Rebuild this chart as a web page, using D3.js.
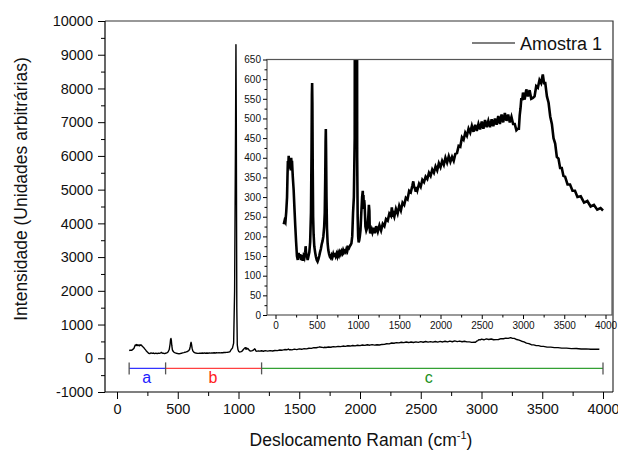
<!DOCTYPE html>
<html><head><meta charset="utf-8">
<script src="https://cdn.jsdelivr.net/npm/d3@7/dist/d3.min.js"></script>
<style>body{margin:0;background:#fff}svg{display:block;font-family:Arial,"Liberation Sans",sans-serif}</style>
</head><body><svg id="c" width="618" height="451"></svg>
<script>
// ---- data ----
const ramanShift = [100,110,120,130,140,145,150,155,160,165,170,175,180,185,190,195,200,205,210,220,230,240,250,260,270,280,290,300,310,320,330,340,350,360,365,370,375,380,390,400,410,420,430,437,441,444,447,451,456,462,470,480,490,500,510,520,530,540,550,560,570,580,590,597,603,607,610,613,618,624,632,640,650,660,670,680,690,700,710,720,730,740,750,760,770,780,790,800,810,820,830,840,850,860,870,880,890,900,910,920,930,940,950,960,968,976,979,982,986,990,996,1002,1008,1015,1022,1030,1040,1050,1058,1062,1066,1070,1075,1080,1085,1090,1100,1108,1115,1125,1132,1138,1142,1148,1155,1165,1175,1190,1205,1220,1240,1260,1280,1300,1320,1340,1360,1380,1400,1410,1420,1428,1440,1460,1480,1500,1520,1540,1560,1580,1600,1620,1640,1660,1670,1680,1690,1700,1710,1720,1740,1760,1780,1800,1820,1840,1860,1880,1900,1920,1940,1960,1980,2000,2020,2040,2060,2080,2100,2120,2140,2160,2180,2200,2220,2240,2260,2280,2300,2320,2340,2360,2380,2400,2420,2440,2460,2480,2500,2520,2540,2560,2580,2600,2620,2640,2660,2680,2700,2720,2740,2760,2780,2800,2820,2840,2860,2880,2900,2920,2940,2950,2960,2970,2980,2990,3000,3020,3040,3060,3080,3100,3120,3140,3160,3180,3200,3220,3240,3255,3270,3290,3310,3330,3350,3370,3390,3410,3430,3450,3470,3490,3510,3540,3570,3600,3630,3660,3700,3740,3780,3820,3860,3900,3940,3970,3990];
const intensity = [231,240,236,262,300,350,392,380,405,372,398,378,395,368,400,385,392,370,350,318,270,225,185,150,140,158,145,155,140,152,138,150,145,158,175,160,148,152,140,150,160,185,260,420,560,590,540,380,250,205,175,160,148,140,136,142,150,160,168,180,188,200,225,260,350,440,473,420,300,220,182,165,155,148,145,152,147,155,148,158,150,156,149,158,152,160,155,162,157,165,159,163,160,168,163,172,170,175,178,182,200,260,300,450,2000,7000,9300,7000,1500,400,250,200,185,190,200,215,260,300,316,270,305,275,292,280,255,225,215,220,225,250,280,265,220,208,212,218,210,222,208,226,212,228,215,232,226,244,240,258,252,274,250,258,250,270,258,278,266,286,280,298,294,316,312,330,340,326,322,314,326,318,334,326,344,338,352,346,362,354,370,362,378,368,386,376,392,382,400,388,404,390,402,392,410,412,430,428,452,446,464,456,474,464,481,466,484,468,486,472,492,474,496,478,494,478,498,480,500,484,506,486,510,490,514,494,510,490,504,486,486,470,474,474,508,526,552,546,566,548,574,556,572,550,552,556,582,578,598,590,612,590,590,556,540,505,486,450,436,402,398,374,374,354,352,332,332,316,316,300,302,286,290,276,280,268,272,266];
const seriesName = "Amostra 1";
const mainXTicks = [0,500,1000,1500,2000,2500,3000,3500,4000];
const mainYTicks = [-1000,0,1000,2000,3000,4000,5000,6000,7000,8000,9000,10000];
const insetXTicks = [0,500,1000,1500,2000,2500,3000,3500,4000];
const insetYTicks = [0,50,100,150,200,250,300,350,400,450,500,550,600,650];
const rangeLabels = ["a","b","c"];
const rangeStart = [100,400,1190];
const rangeEnd = [400,1190,4000];
const rangeLabelAt = [245,790,2565];
const rangeLevel = -300;

const pts = ramanShift.map((x,i)=>[x,intensity[i]]);
const svg = d3.select("#c");
const fmt = d => String(d);

// ---- main plot ----
const M = {l:105, r:613, t:21, b:392};
const x = d3.scaleLinear().domain([0,4000]).range([117,603]);
const y = d3.scaleLinear().domain([-1000,10000]).range([392,21]);

svg.append("path").attr("d",`M${M.l},${M.t}H${M.r}V${M.b}`).attr("fill","none").attr("stroke","#333").attr("stroke-width",1.2);

const fs = "14.5px";
const xAx = svg.append("g").attr("transform",`translate(0,${M.b})`)
  .call(d3.axisBottom(x).tickValues(mainXTicks).tickFormat(fmt).tickSize(7).tickSizeOuter(0));
xAx.select(".domain").remove();
svg.append("line").attr("x1",M.l).attr("x2",M.r).attr("y1",M.b).attr("y2",M.b).attr("stroke","#000").attr("stroke-width",1.2);
xAx.selectAll("text").attr("font-size",fs).attr("fill","#111").attr("dy","0.95em").attr("y",8);
svg.append("g").attr("transform",`translate(0,${M.b})`)
  .call(d3.axisBottom(x).tickValues(d3.range(250,4001,500)).tickFormat("").tickSize(4).tickSizeOuter(0))
  .select(".domain").remove();

const yAx = svg.append("g").attr("transform",`translate(${M.l},0)`)
  .call(d3.axisLeft(y).tickValues(mainYTicks).tickFormat(fmt).tickSize(7).tickSizeOuter(0));
yAx.select(".domain").remove();
svg.append("line").attr("x1",M.l).attr("x2",M.l).attr("y1",M.t).attr("y2",M.b).attr("stroke","#000").attr("stroke-width",1.2);
yAx.selectAll("text").attr("font-size",fs).attr("fill","#111").attr("x",-12);
svg.append("g").attr("transform",`translate(${M.l},0)`)
  .call(d3.axisLeft(y).tickValues(d3.range(-500,10000,1000)).tickFormat("").tickSize(4).tickSizeOuter(0))
  .select(".domain").remove();
svg.selectAll(".tick line").attr("stroke","#000");

// main spectrum
const lineMain = d3.line().x(d=>x(d[0])).y(d=>y(d[1]));
svg.append("path").datum(pts).attr("d",lineMain).attr("fill","none").attr("stroke","#000").attr("stroke-width",1.4).attr("stroke-linejoin","round");

// range bars
const rangeColors = ["#3333ff","#ff4040","#33a033"];
const labelColors = ["#2020ff","#ff2020","#209020"];
rangeLabels.forEach((lab,i)=>{
  svg.append("line").attr("x1",x(rangeStart[i])).attr("x2",x(rangeEnd[i])).attr("y1",y(rangeLevel)).attr("y2",y(rangeLevel))
    .attr("stroke",rangeColors[i]).attr("stroke-width",1.3);
  svg.append("text").attr("x",x(rangeLabelAt[i])).attr("y",y(rangeLevel)+15).attr("text-anchor","middle")
    .attr("font-size","16px").attr("fill",labelColors[i]).text(lab);
});
const ends = rangeStart.concat([rangeEnd[rangeEnd.length-1]]);
ends.forEach(v=>{
  svg.append("line").attr("x1",x(v)).attr("x2",x(v)).attr("y1",y(rangeLevel)-6).attr("y2",y(rangeLevel)+6)
    .attr("stroke","#555").attr("stroke-width",1.3);
});

// axis titles
svg.append("text").attr("transform","translate(27,189) rotate(-90)").attr("text-anchor","middle")
  .attr("font-size","17.5px").attr("fill","#111").text("Intensidade (Unidades arbitrárias)");
const xt = svg.append("text").attr("x",361).attr("y",446).attr("text-anchor","middle").attr("font-size","17.5px").attr("fill","#111");
xt.append("tspan").text("Deslocamento Raman (cm");
xt.append("tspan").attr("font-size","11px").attr("dy","-7").text("-1");
xt.append("tspan").attr("dy","7").text(")");

// legend
svg.append("line").attr("x1",472).attr("x2",515).attr("y1",43).attr("y2",43).attr("stroke","#000").attr("stroke-width",1.2);
svg.append("text").attr("x",520).attr("y",50).attr("font-size","18px").attr("fill","#111").text(seriesName);

// ---- inset ----
const I = {l:267, r:612, t:59.5, b:315};
const xi = d3.scaleLinear().domain([0,4000]).range([275.5,605.5]);
const yi = d3.scaleLinear().domain([0,650]).range([315,59.5]);
svg.append("rect").attr("x",I.l).attr("y",I.t).attr("width",I.r-I.l).attr("height",I.b-I.t).attr("fill","#fff");
svg.append("clipPath").attr("id","ic").append("rect").attr("x",I.l).attr("y",I.t).attr("width",I.r-I.l).attr("height",I.b-I.t);
const lineIn = d3.line().x(d=>xi(d[0])).y(d=>yi(d[1]));
svg.append("path").datum(pts).attr("clip-path","url(#ic)").attr("d",lineIn).attr("fill","none").attr("stroke","#000").attr("stroke-width",2.6).attr("stroke-linejoin","miter");
svg.append("rect").attr("x",I.l).attr("y",I.t).attr("width",I.r-I.l).attr("height",I.b-I.t).attr("fill","none").attr("stroke","#555").attr("stroke-width",1.2);

const xiAx = svg.append("g").attr("transform",`translate(0,${I.b})`)
  .call(d3.axisBottom(xi).tickValues(insetXTicks).tickFormat(fmt).tickSize(4).tickSizeOuter(0));
xiAx.select(".domain").remove();
xiAx.selectAll("text").attr("font-size","10px").attr("fill","#111").attr("y",7);
svg.append("g").attr("transform",`translate(0,${I.b})`)
  .call(d3.axisBottom(xi).tickValues(d3.range(250,4001,500)).tickFormat("").tickSize(2.5).tickSizeOuter(0))
  .select(".domain").remove();
const yiAx = svg.append("g").attr("transform",`translate(${I.l},0)`)
  .call(d3.axisLeft(yi).tickValues(insetYTicks).tickFormat(fmt).tickSize(4).tickSizeOuter(0));
yiAx.select(".domain").remove();
yiAx.selectAll("text").attr("font-size","10px").attr("fill","#111").attr("x",-6);
svg.append("g").attr("transform",`translate(${I.l},0)`)
  .call(d3.axisLeft(yi).tickValues(d3.range(25,650,50)).tickFormat("").tickSize(2.5).tickSizeOuter(0))
  .select(".domain").remove();
svg.selectAll(".tick line").attr("stroke","#000");
</script></body></html>
